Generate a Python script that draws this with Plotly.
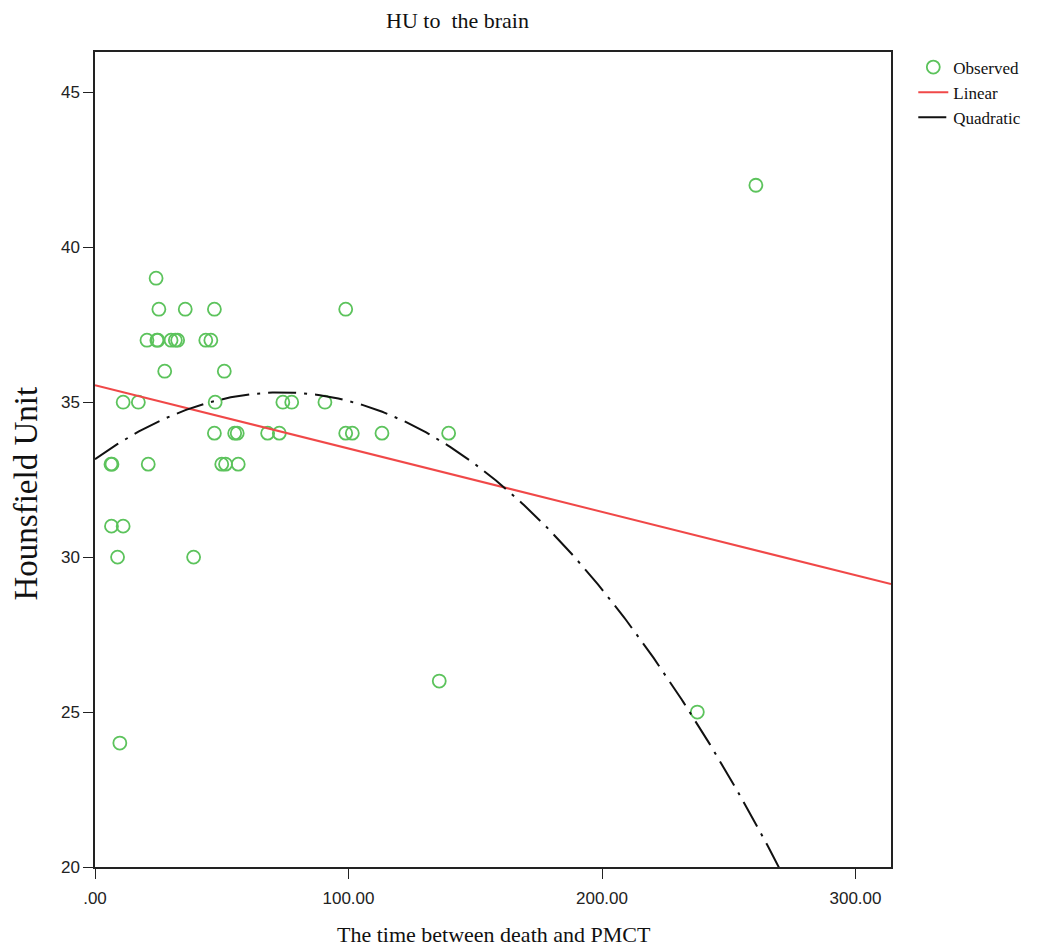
import numpy as np
import plotly.graph_objects as go

# Observed points (time between death and PMCT, Hounsfield Unit)
obs_time = [24.1,
            25.2, 35.6, 47.1, 98.9,
            20.5, 24.4, 24.8, 30.0, 31.7, 32.6, 43.7, 45.7,
            27.5, 51.0,
            11.1, 17.1, 47.4, 74.1, 77.6, 90.7,
            47.1, 55.1, 56.1, 68.1, 72.7, 98.9, 101.5, 113.2, 139.5,
            6.3, 6.7, 21.0, 50.0, 51.5, 56.5,
            6.5, 11.1,
            8.9, 38.9,
            135.8, 237.6, 9.8, 260.7]
obs_hu = [39,
          38, 38, 38, 38,
          37, 37, 37, 37, 37, 37, 37, 37,
          36, 36,
          35, 35, 35, 35, 35, 35,
          34, 34, 34, 34, 34, 34, 34, 34, 34,
          33, 33, 33, 33, 33, 33,
          31, 31,
          30, 30,
          26, 25, 24, 42]

# Fitted model coefficients
linear_coef = [35.55, -0.02045]             # b0, b1
quad_coef = [33.16, 0.0586, -0.000398]      # b0, b1, b2

x_ticks = [0, 100, 200, 300]
x_tick_labels = [".00", "100.00", "200.00", "300.00"]
y_ticks = [20, 25, 30, 35, 40, 45]

x_range = [0, 314]
y_range = [20, 46.3]

fit_x = np.linspace(x_range[0], x_range[1], 400)
lin_y = linear_coef[0] + linear_coef[1] * fit_x
quad_y = quad_coef[0] + quad_coef[1] * fit_x + quad_coef[2] * fit_x ** 2

fig = go.Figure()
fig.add_trace(go.Scatter(
    x=obs_time, y=obs_hu, mode="markers", name="Observed",
    marker=dict(symbol="circle-open", size=13, color="#5cc35c",
                line=dict(width=1.8, color="#5cc35c")),
    cliponaxis=False,
))
fig.add_trace(go.Scatter(
    x=fit_x, y=lin_y, mode="lines", name="Linear",
    line=dict(color="#f04848", width=2),
))
fig.add_trace(go.Scatter(
    x=fit_x, y=quad_y, mode="lines", name="Quadratic",
    line=dict(color="#111111", width=2, dash="28px,8px,3px,8px"),
))

tick_font = dict(family="Liberation Sans Narrow, Arial Narrow, Liberation Sans, sans-serif",
                 size=17, color="#222222")
serif = "Liberation Serif, Times New Roman, serif"

fig.update_layout(
    width=1030, height=939,
    margin=dict(l=87, r=141, t=44, b=80),
    paper_bgcolor="white", plot_bgcolor="white",
    showlegend=True,
    legend=dict(x=1.028, y=1.003, xanchor="left", yanchor="top",
                font=dict(family=serif, size=17, color="#111111"),
                bgcolor="rgba(0,0,0,0)", tracegroupgap=0, itemwidth=30),
    xaxis=dict(range=x_range, tickvals=x_ticks, ticktext=x_tick_labels,
               showgrid=False, zeroline=False, showline=True, mirror=True,
               linecolor="#222222", linewidth=1.5, ticks="outside",
               ticklen=10, tickwidth=1.2, tickcolor="#222222",
               tickfont=tick_font, ticklabelstandoff=5),
    yaxis=dict(range=y_range, tickvals=y_ticks,
               showgrid=False, zeroline=False, showline=True, mirror=True,
               linecolor="#222222", linewidth=1.5, ticks="outside",
               ticklen=10, tickwidth=1.2, tickcolor="#222222",
               tickfont=tick_font),
    annotations=[
        dict(text="HU to\u00a0 the brain", xref="paper", yref="paper",
             x=0.456, y=1.039, xanchor="center", yanchor="middle",
             showarrow=False, font=dict(family=serif, size=22, color="#111111")),
        dict(text="The time between death and PMCT", xref="paper", yref="paper",
             x=0.501, y=-0.0834, xanchor="center", yanchor="middle",
             showarrow=False, font=dict(family=serif, size=22, color="#111111")),
        dict(text="Hounsfield Unit", xref="paper", yref="paper",
             x=-0.0873, y=0.4577, xanchor="center", yanchor="middle",
             textangle=-90, showarrow=False,
             font=dict(family=serif, size=33, color="#111111")),
    ],
)

fig.write_html("out.html")
